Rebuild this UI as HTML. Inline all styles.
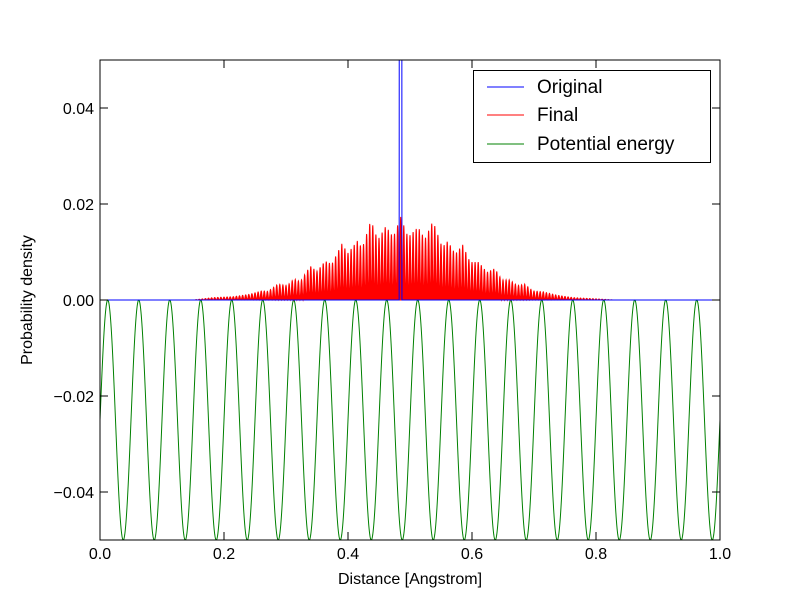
<!DOCTYPE html>
<html><head><meta charset="utf-8"><style>
body{margin:0;background:#fff}
svg text{font-family:"Liberation Sans","DejaVu Sans",sans-serif}
</style></head><body>
<svg id="chart" width="800" height="600" xmlns="http://www.w3.org/2000/svg">
<rect width="800" height="600" fill="#fff"/>
<defs><clipPath id="clip"><rect x="100" y="60" width="620" height="480"/></clipPath></defs>
<g id="plot" clip-path="url(#clip)"></g>
<g id="axes"></g>
<rect x="100" y="60" width="620" height="480" fill="none" stroke="#000" stroke-width="1"/>
<text x="410" y="584" font-size="16" text-anchor="middle">Distance [Angstrom]</text>
<text x="32" y="300" font-size="16" text-anchor="middle" transform="rotate(-90 32 300)">Probability density</text>
<g>
<rect x="473.5" y="70.5" width="237" height="92" fill="#fff" stroke="#000"/>
<g><line x1="487" y1="87" x2="524" y2="87" stroke="#0000ff"/><text x="537" y="93" font-size="19">Original</text></g>
<g><line x1="487" y1="115" x2="524" y2="115" stroke="#ff0000"/><text x="537" y="121" font-size="19">Final</text></g>
<g><line x1="487" y1="144" x2="524" y2="144" stroke="#008000"/><text x="537" y="150" font-size="19">Potential energy</text></g>
</g>
</svg>
<script>
const xTicks=[0,0.2,0.4,0.6,0.8,1.0];
const xTickLabels=["0.0","0.2","0.4","0.6","0.8","1.0"];
const yTicks=[-0.04,-0.02,0,0.02,0.04];
const yTickLabels=["\u22120.04","\u22120.02","0.00","0.02","0.04"];
const originalX=[0,0.4825,0.483,0.4865,0.487,1];
const originalY=[0,0,0.2,0.2,0,0];
const envelopeX=[0.15,0.182,0.215,0.242,0.261,0.271,0.287,0.302,0.313,0.323,0.339,0.350,0.363,0.374,0.390,0.400,0.415,0.423,0.437,0.448,0.461,0.473,0.485,0.497,0.513,0.524,0.537,0.552,0.561,0.573,0.585,0.597,0.611,0.624,0.637,0.648,0.661,0.673,0.685,0.698,0.715,0.737,0.763,0.806,0.83];
const envelopeY=[0,0.0005,0.0007,0.0012,0.0019,0.0018,0.0033,0.003,0.0044,0.0038,0.0071,0.006,0.0081,0.0075,0.0117,0.0098,0.0123,0.0108,0.0167,0.0125,0.0154,0.0131,0.0173,0.0131,0.0152,0.0127,0.0165,0.011,0.0123,0.0096,0.0115,0.0079,0.0079,0.0058,0.0066,0.0042,0.0042,0.003,0.0033,0.0019,0.0017,0.001,0.0005,0.0002,0];
const spikeSpacing=[0.005];
const spikeCenter=[0.485];
const potentialPeriod=[0.05];
const potentialDepth=[0.05];
const potentialPhase=[0.0125];
const X0=100,X1=720,Y0=540,Y1=60;
const sx=v=>X0+(v-0)/(1-0)*(X1-X0);
const sy=v=>Y0-(v+0.05)/0.1*(Y0-Y1);
const NS="http://www.w3.org/2000/svg";
const plot=document.getElementById('plot'),axes=document.getElementById('axes');
function poly(pts,color,name,fill){const p=document.createElementNS(NS,fill?'polygon':'polyline');
p.setAttribute('points',pts.map(q=>sx(q[0]).toFixed(2)+','+sy(q[1]).toFixed(2)).join(' '));
p.setAttribute('fill',fill?color:'none');p.setAttribute('stroke',color);p.setAttribute('stroke-width','1');


plot.appendChild(p);}
function env(x){if(x<=envelopeX[0]||x>=envelopeX[envelopeX.length-1])return 0;
for(let i=0;i<envelopeX.length-1;i++){if(x>=envelopeX[i]&&x<=envelopeX[i+1]){const t=(x-envelopeX[i])/(envelopeX[i+1]-envelopeX[i]);return envelopeY[i]+t*(envelopeY[i+1]-envelopeY[i]);}}return 0;}
// potential
let g=[];for(let i=0;i<=2000;i++){const x=i/2000;g.push([x,-potentialDepth[0]/2+potentialDepth[0]/2*Math.cos(2*Math.PI*(x-potentialPhase[0])/potentialPeriod[0])]);}
poly(g,'#008000','potential-energy-line');
// final
const st=spikeSpacing[0];
let r=[[0,0]];
for(let i=0;i<=4000;i++){const x=i/4000;const ph=Math.cos(Math.PI*(x-spikeCenter[0])/st);r.push([x,env(x)*ph*ph]);}
r.push([1,0]);
poly(r,'#ff0000','final-line',true);
poly([[0,0],[1,0]],'#ff0000','final-baseline');
poly(originalX.map((x,i)=>[x,originalY[i]]),'#0000ff','original-line');
function ln(x1,y1,x2,y2,name){const l=document.createElementNS(NS,'line');l.setAttribute('x1',x1);l.setAttribute('y1',y1);l.setAttribute('x2',x2);l.setAttribute('y2',y2);l.setAttribute('stroke','#000');


axes.appendChild(l);}
function tx(x,y,s,anchor,name){const t=document.createElementNS(NS,'text');t.setAttribute('x',x);t.setAttribute('y',y);t.setAttribute('font-size','16');t.setAttribute('text-anchor',anchor);t.textContent=s;


axes.appendChild(t);}
xTicks.forEach((v,i)=>{const x=sx(v);ln(x,540,x,532,'x-tick');ln(x,60,x,68,'x-tick-top');tx(x,559,xTickLabels[i],'middle','x-tick-label');});
yTicks.forEach((v,i)=>{const y=sy(v);ln(100,y,108,y,'y-tick');ln(720,y,712,y,'y-tick-right');tx(94,y+6,yTickLabels[i],'end','y-tick-label');});
</script>
</body></html>
